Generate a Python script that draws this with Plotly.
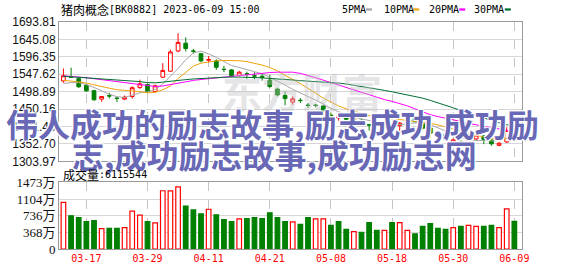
import plotly.graph_objects as go

# ---------------- data ----------------
dates = ["03-14", "03-15", "03-16", "03-17", "03-20", "03-21", "03-22", "03-23", "03-24", "03-27",
         "03-28", "03-29", "03-30", "03-31", "04-03", "04-04", "04-06", "04-07", "04-10", "04-11",
         "04-12", "04-13", "04-14", "04-17", "04-18", "04-19", "04-20", "04-21", "04-24", "04-25",
         "04-26", "04-27", "04-28", "05-04", "05-05", "05-08", "05-09", "05-10", "05-11", "05-12",
         "05-15", "05-16", "05-17", "05-18", "05-19", "05-22", "05-23", "05-24", "05-25", "05-26",
         "05-29", "05-30", "05-31", "06-01", "06-02", "06-05", "06-06", "06-07", "06-08", "06-09"]

open_ = [1528.9, 1541.0, 1535.2, 1517.0, 1501.7, 1478.1, 1487.6, 1480.8, 1478.1, 1485.4,
         1510.7, 1518.9, 1499.0, 1539.3, 1556.1, 1612.7, 1634.5, 1612.7, 1605.1, 1586.9,
         1585.0, 1561.6, 1559.7, 1544.2, 1548.8, 1543.3, 1542.0, 1531.1, 1506.1, 1488.1,
         1469.9, 1474.8, 1461.2, 1461.2, 1459.0, 1433.1, 1425.5, 1428.2, 1420.9, 1419.0,
         1406.5, 1412.0, 1401.9, 1408.1, 1403.8, 1410.0, 1423.6, 1410.0, 1397.2, 1381.5,
         1378.7, 1355.6, 1359.7, 1341.0, 1366.5, 1374.7, 1363.8, 1348.8, 1358.3, 1392.3]
high = [1563.8, 1566.0, 1537.9, 1518.9, 1503.9, 1486.2, 1495.7, 1484.8, 1488.1, 1514.2,
        1532.4, 1521.6, 1518.9, 1578.7, 1616.0, 1662.2, 1650.8, 1618.7, 1605.9, 1598.6,
        1589.6, 1571.4, 1562.4, 1556.9, 1555.0, 1553.4, 1548.8, 1546.1, 1509.9, 1499.0,
        1485.4, 1480.8, 1467.2, 1464.4, 1460.4, 1440.0, 1435.3, 1430.4, 1429.1, 1422.3,
        1407.3, 1414.1, 1414.7, 1411.4, 1414.1, 1423.6, 1426.3, 1415.5, 1403.2, 1385.6,
        1380.0, 1367.8, 1362.4, 1369.0, 1380.1, 1377.4, 1366.5, 1357.0, 1399.1, 1396.4]
low = [1524.3, 1537.0, 1509.3, 1498.5, 1473.9, 1470.7, 1479.9, 1469.9, 1476.1, 1479.4,
       1506.1, 1494.4, 1497.1, 1537.9, 1555.6, 1609.5, 1611.4, 1605.1, 1580.6, 1580.6,
       1559.7, 1553.4, 1539.3, 1540.6, 1535.2, 1533.8, 1529.7, 1508.0, 1485.4, 1460.9,
       1462.5, 1467.2, 1453.6, 1454.9, 1435.3, 1426.3, 1417.4, 1419.6, 1418.2, 1406.0,
       1390.2, 1400.5, 1394.5, 1400.5, 1380.9, 1406.0, 1412.7, 1393.7, 1370.6, 1369.2,
       1362.9, 1350.2, 1346.1, 1338.0, 1363.8, 1352.0, 1347.5, 1346.1, 1355.6, 1377.4]
close = [1543.4, 1539.0, 1512.6, 1501.2, 1476.1, 1485.4, 1486.8, 1479.9, 1483.5, 1509.9,
         1520.8, 1498.5, 1515.3, 1558.3, 1610.0, 1636.7, 1619.5, 1611.9, 1585.0, 1588.8,
         1567.0, 1560.8, 1543.3, 1553.4, 1548.0, 1542.5, 1539.3, 1513.4, 1489.7, 1479.4,
         1478.9, 1474.0, 1460.4, 1460.4, 1444.6, 1432.3, 1427.2, 1421.7, 1426.3, 1408.1,
         1405.4, 1403.8, 1405.9, 1403.8, 1410.8, 1416.8, 1414.7, 1396.4, 1382.8, 1376.0,
         1365.1, 1363.8, 1350.2, 1366.0, 1377.4, 1365.1, 1352.9, 1354.8, 1390.2, 1380.1]

ma5 = [1521.6, 1524.3, 1524.3, 1518.9, 1510.7, 1501.2, 1491.7, 1484.8, 1482.7, 1488.9,
       1495.7, 1498.5, 1505.3, 1520.2, 1540.6, 1563.8, 1588.2, 1607.3, 1611.9, 1604.6,
       1595.0, 1582.8, 1571.9, 1566.5, 1559.7, 1554.8, 1549.3, 1539.3, 1528.4, 1517.5,
       1505.3, 1495.7, 1484.8, 1475.3, 1464.4, 1452.2, 1442.7, 1434.5, 1428.3, 1422.8,
       1417.4, 1413.3, 1409.2, 1406.8, 1406.5, 1408.7, 1411.4, 1411.4, 1405.9, 1397.8,
       1388.3, 1378.7, 1370.6, 1365.1, 1362.4, 1362.4, 1361.0, 1362.4, 1367.8, 1370.6]
ma10 = [1530.6, 1528.9, 1526.2, 1522.9, 1517.5, 1513.4, 1508.5, 1504.4, 1503.1, 1501.7,
        1499.0, 1495.7, 1497.1, 1503.9, 1514.8, 1535.2, 1554.2, 1570.5, 1578.7, 1582.8,
        1585.0, 1586.3, 1586.9, 1585.5, 1582.8, 1578.7, 1573.3, 1566.5, 1557.0, 1544.7,
        1533.8, 1521.6, 1508.0, 1494.4, 1480.8, 1469.9, 1459.0, 1450.8, 1444.0, 1437.2,
        1431.8, 1428.3, 1425.0, 1422.8, 1420.9, 1418.2, 1416.8, 1414.1, 1410.0, 1405.9,
        1400.5, 1395.1, 1388.3, 1381.5, 1376.0, 1371.9, 1368.4, 1367.0, 1367.0, 1367.8]
ma20 = [1543.3, 1542.0, 1539.8, 1537.9, 1535.2, 1532.5, 1529.7, 1527.0, 1524.3, 1521.0,
        1517.5, 1514.8, 1513.4, 1514.8, 1518.9, 1522.9, 1527.0, 1530.3, 1533.0, 1535.2,
        1537.9, 1540.6, 1542.5, 1544.7, 1546.9, 1548.8, 1550.7, 1552.3, 1553.4, 1553.7,
        1553.4, 1550.1, 1544.7, 1537.9, 1531.1, 1524.3, 1516.1, 1509.3, 1502.5, 1495.7,
        1488.9, 1482.7, 1476.7, 1471.8, 1465.8, 1459.0, 1450.8, 1442.7, 1434.5, 1429.1,
        1425.0, 1420.9, 1415.5, 1410.0, 1405.9, 1401.8, 1397.8, 1393.7, 1389.6, 1386.9]
ma30 = [1542.0, 1540.6, 1539.3, 1537.9, 1537.1, 1535.7, 1533.8, 1532.5, 1531.1, 1529.2,
        1527.0, 1524.3, 1523.5, 1525.7, 1528.4, 1530.3, 1532.5, 1534.4, 1536.0, 1537.4,
        1538.4, 1539.3, 1539.8, 1539.8, 1539.3, 1538.4, 1537.4, 1536.3, 1534.6, 1533.0,
        1531.4, 1529.7, 1528.4, 1527.0, 1526.2, 1525.1, 1522.9, 1520.2, 1517.0, 1513.4,
        1509.9, 1506.1, 1502.5, 1498.5, 1494.4, 1490.3, 1486.2, 1480.8, 1474.5, 1468.0,
        1460.9, 1453.6, 1446.2, 1439.1, 1431.8, 1425.0, 1418.2, 1411.9, 1406.5, 1401.8]

volume = [10310000, 7360000, 6930000, 6080000, 6290000, 4510000, 4570000, 4570000, 4720000, 8370000,
          7510000, 6080000, 5800000, 12900000, 12850000, 13740000, 9510000, 8650000, 7790000, 8800000,
          7580000, 6510000, 6080000, 6660000, 6720000, 6930000, 6720000, 8010000, 6930000, 6080000,
          6010000, 5430000, 6930000, 6660000, 6660000, 5220000, 6080000, 4360000, 3860000, 3710000,
          5860000, 4140000, 4140000, 5860000, 5860000, 4140000, 3350000, 5000000, 5650000, 4570000,
          4360000, 4720000, 5000000, 5220000, 5000000, 5000000, 5220000, 4720000, 8870000, 6115544]
vol_up = [1, 0, 0, 0, 0, 1, 0, 0, 1, 1,
          1, 0, 1, 1, 1, 1, 0, 0, 0, 1,
          0, 0, 0, 1, 0, 0, 0, 0, 0, 0,
          1, 0, 0, 1, 1, 0, 0, 0, 1, 0,
          0, 0, 1, 0, 1, 1, 0, 0, 0, 0,
          0, 1, 0, 1, 1, 0, 0, 1, 1, 0]

price_ticks = [1303.97, 1352.70, 1401.43, 1450.16, 1498.89, 1547.62, 1596.35, 1645.08, 1693.81]
vol_ticks = [0, 3682500, 7365000, 11047500, 14730000]
vol_tick_labels = ["0", "368万", "736万", "1104万", "1473万"]
x_tick_dates = ["03-17", "03-29", "04-11", "04-21", "05-08", "05-18", "05-30", "06-09"]

title_cn = "猪肉概念"
title_rest = "[BK0882] 2023-06-09 15:00"
vol_title_cn = "成交量"
vol_title_rest = ":6115544"
ma_names = ["5PMA", "10PMA", "20PMA", "30PMA"]
ma_colors = ["#a6a6a6", "#f0a30a", "#ff00ff", "#006e32"]
wm_line1 = "伟人成功的励志故事,励志成功,成功励"
wm_line2 = "志,成功励志故事,成功励志网"

# ---------------- geometry ----------------
W, H = 578, 276
ML, MR, MT, MB = 55, 56, 22, 21
PW, PH = W - ML - MR, H - MT - MB


def px(x):
    return (x - ML) / PW


def py(y):
    return (H - MB - y) / PH


RED = "#ff0000"
GREEN = "#008000"
GRID = "#d6d6d6"
VGRID = "#c4c4c4"
BORDER = "#9a9a9a"
MONO = "DejaVu Sans Mono, Noto Sans CJK SC"
CJK = "Noto Sans CJK SC"

fig = go.Figure()

for name, vals, col in zip(ma_names, [ma5, ma10, ma20, ma30], ma_colors):
    fig.add_trace(go.Scatter(x=dates, y=vals, mode="lines", name=name,
                             line=dict(color=col, width=1), hoverinfo="skip",
                             showlegend=False, xaxis="x", yaxis="y"))

fig.add_trace(go.Candlestick(
    x=dates, open=open_, high=high, low=low, close=close,
    increasing=dict(line=dict(color=RED, width=1), fillcolor="#ffffff"),
    decreasing=dict(line=dict(color=GREEN, width=1), fillcolor=GREEN),
    whiskerwidth=0, showlegend=False, xaxis="x", yaxis="y"))

fig.add_trace(go.Bar(
    x=dates, y=volume, width=0.6,
    marker=dict(color=["#ffffff" if u else GREEN for u in vol_up],
                line=dict(color=[RED if u else GREEN for u in vol_up], width=1.2)),
    showlegend=False, xaxis="x2", yaxis="y2"))

axis_common = dict(showline=True, mirror=True, linecolor=BORDER, linewidth=1,
                   zeroline=False, ticks="", fixedrange=True)

fig.update_layout(
    width=W, height=H,
    margin=dict(l=ML, r=MR, t=MT, b=MB),
    paper_bgcolor="#ffffff", plot_bgcolor="#ffffff",
    showlegend=False,
    xaxis=dict(type="category", range=[-0.58, 60.0], domain=[0, 1], anchor="y",
               tickvals=x_tick_dates, showticklabels=False,
               showgrid=True, gridcolor=VGRID, griddash="dash", gridwidth=1,
               rangeslider=dict(visible=False), **axis_common),
    xaxis2=dict(type="category", range=[-0.58, 60.0], domain=[0, 1], anchor="y2",
                matches="x", tickvals=x_tick_dates, ticktext=x_tick_dates,
                showticklabels=True, tickfont=dict(family=MONO, size=10, color=RED),
                showgrid=True, gridcolor=VGRID, griddash="dash", gridwidth=1,
                **axis_common),
    yaxis=dict(domain=[py(165), 1], range=[price_ticks[0], price_ticks[-1]],
               tickvals=price_ticks, ticktext=["%.2f" % v for v in price_ticks],
               tickfont=dict(family="Liberation Sans", size=12, color="#111111"),
               showgrid=True, gridcolor=GRID, gridwidth=1, anchor="x", **axis_common),
    yaxis2=dict(domain=[0, py(186.7)], range=[0, vol_ticks[-1]],
                tickvals=vol_ticks, ticktext=vol_tick_labels,
                tickfont=dict(family="Liberation Serif, Noto Sans CJK SC", size=13, color="#111111"),
                showgrid=True, gridcolor=GRID, gridwidth=1, anchor="x2", **axis_common),
)

ann = []
# title
ann.append(dict(text=title_cn, x=px(55), y=py(8.7), xanchor="left", yanchor="middle",
                font=dict(family=CJK, size=12, color="#000000")))
ann.append(dict(text=title_rest, x=px(103.5), y=py(8.7), xanchor="left", yanchor="middle",
                font=dict(family=MONO, size=10, color="#000000")))

# legend (text followed by a short colour dash)
leg_text_x = [338.7, 380.3, 425.7, 471.3]
leg_dash_x = [364.7, 412.3, 458.7, 504.7]
shapes = []
for name, col, tx, dx in zip(ma_names, ma_colors, leg_text_x, leg_dash_x):
    ann.append(dict(text=name, x=px(tx), y=py(9.0), xanchor="left", yanchor="middle",
                    font=dict(family=MONO, size=10, color="#000000")))
    shapes.append(dict(type="rect", xref="paper", yref="paper",
                       x0=px(dx), x1=px(dx + 6), y0=py(10.3), y1=py(8.0),
                       fillcolor=col, line=dict(width=0)))

# faint brand watermark
ann.append(dict(text="<b>东方财富</b>", x=px(300), y=py(93), xanchor="center", yanchor="middle",
                font=dict(family=CJK, size=40, color="#c0c0c4"), opacity=0.4))

# overlaid text watermark
outline = "-1px -1px 0 #ffffff, 1px -1px 0 #ffffff, -1px 1px 0 #ffffff, 1px 1px 0 #ffffff"
ann.append(dict(text="<b>" + wm_line1 + "</b>", x=px(270), y=py(126), xanchor="center",
                yanchor="middle",
                font=dict(family=CJK, size=32, color="#6868b6", shadow=outline)))
ann.append(dict(text="<b>" + wm_line2 + "</b>", x=px(272), y=py(157), xanchor="center",
                yanchor="middle",
                font=dict(family=CJK, size=32, color="#6868b6", shadow=outline)))

# volume title drawn last so it stays readable under the watermark
ann.append(dict(text=vol_title_cn, x=px(57), y=py(178.3), xanchor="left", yanchor="middle",
                font=dict(family=CJK, size=12, color="#000000")))
ann.append(dict(text=vol_title_rest, x=px(93.3), y=py(178.3), xanchor="left", yanchor="middle",
                font=dict(family=MONO, size=10, color="#000000")))

for a in ann:
    a.update(xref="paper", yref="paper", showarrow=False)

fig.update_layout(annotations=ann, shapes=shapes)

fig.write_html("out.html", config={"displayModeBar": False})
